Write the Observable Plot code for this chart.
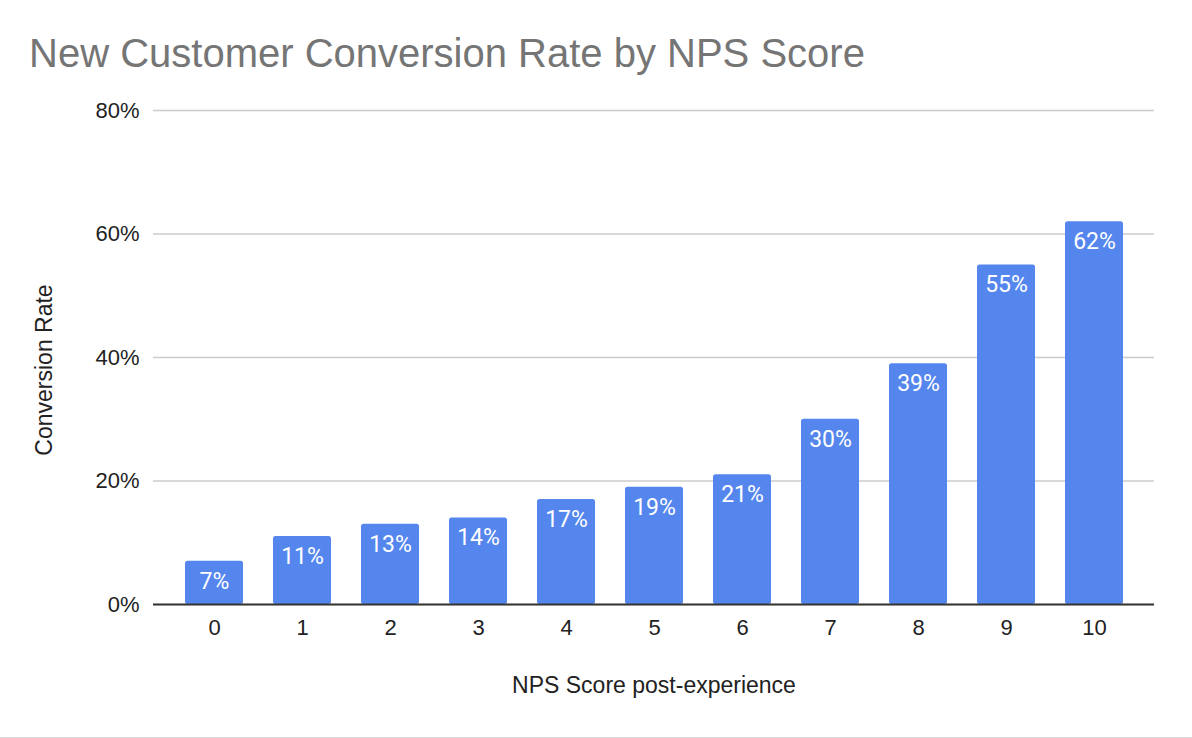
<!DOCTYPE html>
<html>
<head>
<meta charset="utf-8">
<script src="https://cdn.jsdelivr.net/npm/d3@7"></script>
<script src="https://cdn.jsdelivr.net/npm/@observablehq/plot@0.6"></script>
<style>
  html, body { margin: 0; padding: 0; background: #fff; }
  #wrap { width: 1192px; height: 738px; box-sizing: border-box; border-bottom: 1px solid #d9d9d9; overflow: hidden; }
  #title { position: relative; height: 90px; }
  #title span { position: absolute; left: 29px; top: 33px; font-family: "Liberation Sans", Arial, sans-serif; font-size: 40px; line-height: 40px; color: #757575; white-space: nowrap; }
  #chart svg { display: block; }
</style>
</head>
<body>
<div id="wrap">
  <div id="title"><span>New Customer Conversion Rate by NPS Score</span></div>
  <div id="chart"></div>
</div>
<script>
const scores = ["0", "1", "2", "3", "4", "5", "6", "7", "8", "9", "10"];
const rates = [0.07, 0.11, 0.13, 0.14, 0.17, 0.19, 0.21, 0.30, 0.39, 0.55, 0.62];
const yTicks = [0, 0.2, 0.4, 0.6, 0.8];
const xLabel = "NPS Score post-experience";
const yLabel = "Conversion Rate";

const data = scores.map((s, i) => ({score: s, rate: rates[i]}));
const pct = d3.format(".0%");
const barColor = "#5586ee";

const chart = Plot.plot({
  width: 1192,
  height: 647,
  marginLeft: 153,
  marginRight: 38,
  marginTop: 20,
  marginBottom: 133,
  style: {fontFamily: "'Liberation Sans', Arial, sans-serif", fontSize: "22px", color: "#222", background: "#fff"},
  x: {type: "band", domain: scores, paddingInner: 0.343, paddingOuter: 0.34, label: null},
  y: {domain: [0, 0.8], label: null},
  marks: [
    Plot.gridY(yTicks, {stroke: "#cccccc", strokeOpacity: 1, strokeWidth: 1.3}),
    Plot.barY(data, {x: "score", y: "rate", fill: barColor, rx: 2.5}),
    Plot.ruleY([0], {stroke: "#333", strokeWidth: 2}),
    Plot.axisY(yTicks, {tickSize: 0, tickPadding: 14, tickFormat: pct, fontSize: 22, fill: "#222", label: null}),
    Plot.axisX({tickSize: 0, tickPadding: 15, fontSize: 22, fill: "#222", label: null}),
    Plot.text(data, {x: "score", y: "rate", text: d => pct(d.rate), fill: "white", lineAnchor: "top", dy: 11, fontFamily: "Roboto, sans-serif", fontSize: 23}),
    Plot.text([xLabel], {frameAnchor: "bottom", textAnchor: "middle", lineAnchor: "middle", dy: 81, fontSize: 23, fill: "#222"}),
    Plot.text([yLabel], {frameAnchor: "left", rotate: -90, textAnchor: "middle", lineAnchor: "middle", dx: -109, dy: 12.5, fontSize: 23, fill: "#222"})
  ]
});
document.getElementById("chart").appendChild(chart);
</script>
</body>
</html>
